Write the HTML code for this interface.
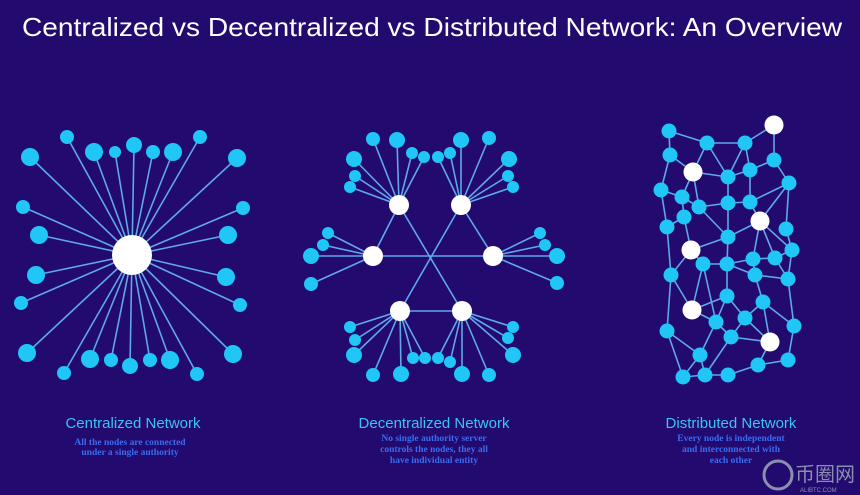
<!DOCTYPE html>
<html><head><meta charset="utf-8"><style>
html,body{margin:0;padding:0;background:#220a6e;}
svg{display:block}
</style></head><body>
<svg id="s" width="860" height="495" viewBox="0 0 860 495" xmlns="http://www.w3.org/2000/svg">
<rect width="860" height="495" fill="#220a6e"/>
<text x="432" y="36" text-anchor="middle" font-family="Liberation Sans, sans-serif" font-size="26" fill="#fff" textLength="820" lengthAdjust="spacingAndGlyphs">Centralized vs Decentralized vs Distributed Network: An Overview</text>
<g id="lines" stroke="#5fa8ea" stroke-width="1.6"></g>
<g id="nodes"></g>
<g font-family="Liberation Sans, sans-serif" font-size="15" fill="#3cc3f2" text-anchor="middle">
<text x="133" y="428">Centralized Network</text>
<text x="434" y="428">Decentralized Network</text>
<text x="731" y="428">Distributed Network</text>
</g>
<g font-family="Liberation Serif, serif" font-weight="bold" font-size="9.5" fill="#3b6cf0" text-anchor="middle">
<text x="130" y="445">All the nodes are connected</text>
<text x="130" y="455">under a single authority</text>
<text x="434" y="441">No single authority server</text>
<text x="434" y="452">controls the nodes, they all</text>
<text x="434" y="463">have individual entity</text>
<text x="731" y="441">Every node is independent</text>
<text x="731" y="452">and interconnected with</text>
<text x="731" y="463">each other</text>
</g>
<g fill="#8a8fb0" font-family="Noto Sans CJK SC, sans-serif">
<circle cx="778" cy="475" r="14" fill="none" stroke="#8a8fb0" stroke-width="3"/>
<text x="795" y="481" font-size="20">币圈网</text>
<text x="800" y="492" font-size="6" font-family="Liberation Sans, sans-serif">ALIBTC.COM</text>
</g>
</svg>
<script>
var L=document.getElementById('lines'),N=document.getElementById('nodes'),ns='http://www.w3.org/2000/svg';
function ln(a,b){var e=document.createElementNS(ns,'line');e.setAttribute('x1',a[0]);e.setAttribute('y1',a[1]);e.setAttribute('x2',b[0]);e.setAttribute('y2',b[1]);L.appendChild(e);}
function nd(p,r,w){var e=document.createElementNS(ns,'circle');e.setAttribute('cx',p[0]);e.setAttribute('cy',p[1]);e.setAttribute('r',r);e.setAttribute('fill',w?'#ffffff':'#1fc6f6');N.appendChild(e);}
// centralized
var c=[132,255];
var co=[[30,157,9],[67,137,7],[94,152,9],[115,152,6],[134,145,8],[153,152,7],[173,152,9],[200,137,7],[237,158,9],[23,207,7],[39,235,9],[36,275,9],[21,303,7],[27,353,9],[64,373,7],[90,359,9],[111,360,7],[130,366,8],[150,360,7],[170,360,9],[197,374,7],[233,354,9],[243,208,7],[228,235,9],[226,277,9],[240,305,7]];
co.forEach(function(p){ln(c,p);nd(p,p[2]);});nd(c,20,1);
// decentralized
var H={tl:[399,205],tr:[461,205],l:[373,256],r:[493,256],bl:[400,311],br:[462,311]};
ln(H.l,H.r);ln(H.tl,H.br);ln(H.tr,H.bl);ln(H.bl,H.br);ln(H.tl,H.l);ln(H.tr,H.r);
var lv={tl:[[373,139,7],[397,140,8],[412,153,6],[424,157,6],[354,159,8],[355,176,6],[350,187,6]],
tr:[[438,157,6],[450,153,6],[461,140,8],[489,138,7],[509,159,8],[508,176,6],[513,187,6]],
l:[[328,233,6],[323,245,6],[311,256,8],[311,284,7]],
r:[[540,233,6],[545,245,6],[557,256,8],[557,283,7]],
bl:[[350,327,6],[355,340,6],[354,355,8],[373,375,7],[401,374,8],[413,358,6],[425,358,6]],
br:[[438,358,6],[450,362,6],[462,374,8],[489,375,7],[513,355,8],[508,338,6],[513,327,6]]};
for(var k in lv){lv[k].forEach(function(p){ln(H[k],p);nd(p,p[2]);});}
for(var k in H)nd(H[k],10,1);
// distributed
var P={A:[669,131],B:[707,143],C:[745,143],D:[774,125,1],E:[670,155],F:[693,172,1],G:[728,177],H:[750,170],I:[774,160],J:[789,183],K:[661,190],L:[682,197],M:[699,207],N:[728,203],O:[750,202],P:[760,221,1],Q:[684,217],R:[667,227],S:[786,229],T:[691,250,1],U:[728,237],V:[792,250],W:[753,259],X:[775,258],Y:[703,264],Z:[727,264],AA:[671,275],AB:[755,275],AC:[788,279],AD:[727,296],AE:[763,302],AF:[692,310,1],AG:[716,322],AH:[745,318],AI:[667,331],AJ:[731,337],AK:[794,326],AL:[770,342,1],AM:[700,355],AN:[758,365],AO:[788,360],AP:[683,377],AQ:[705,375],AR:[728,375]};
var E="A-B A-E B-C C-D B-F B-G C-G C-H D-I E-F E-K F-G F-L F-M G-H G-N H-I H-O I-J J-O J-P J-S K-L K-R L-M L-Q M-N M-U N-O N-U O-P Q-R Q-T R-AA P-U P-W P-V P-X S-V V-X V-AC U-T U-Z T-Y T-AA Y-Z Y-AF Y-AG Z-W Z-AD Z-AB W-X W-AB X-AC AB-AC AB-AE AC-AK AA-AI AA-AF AD-AF AD-AH AD-AG AE-AH AE-AL AF-AG AG-AJ AG-AM AH-AJ AH-AL AI-AM AI-AP AJ-AL AK-AO AL-AN AN-AO AN-AR AM-AP AM-AQ AJ-AQ AQ-AR AP-AQ AE-AK".split(' ');
E.forEach(function(e){var s=e.split('-');ln(P[s[0]],P[s[1]]);});
for(var k in P){nd(P[k],P[k][2]?9.5:7.5,P[k][2]);}
</script>
</body></html>
